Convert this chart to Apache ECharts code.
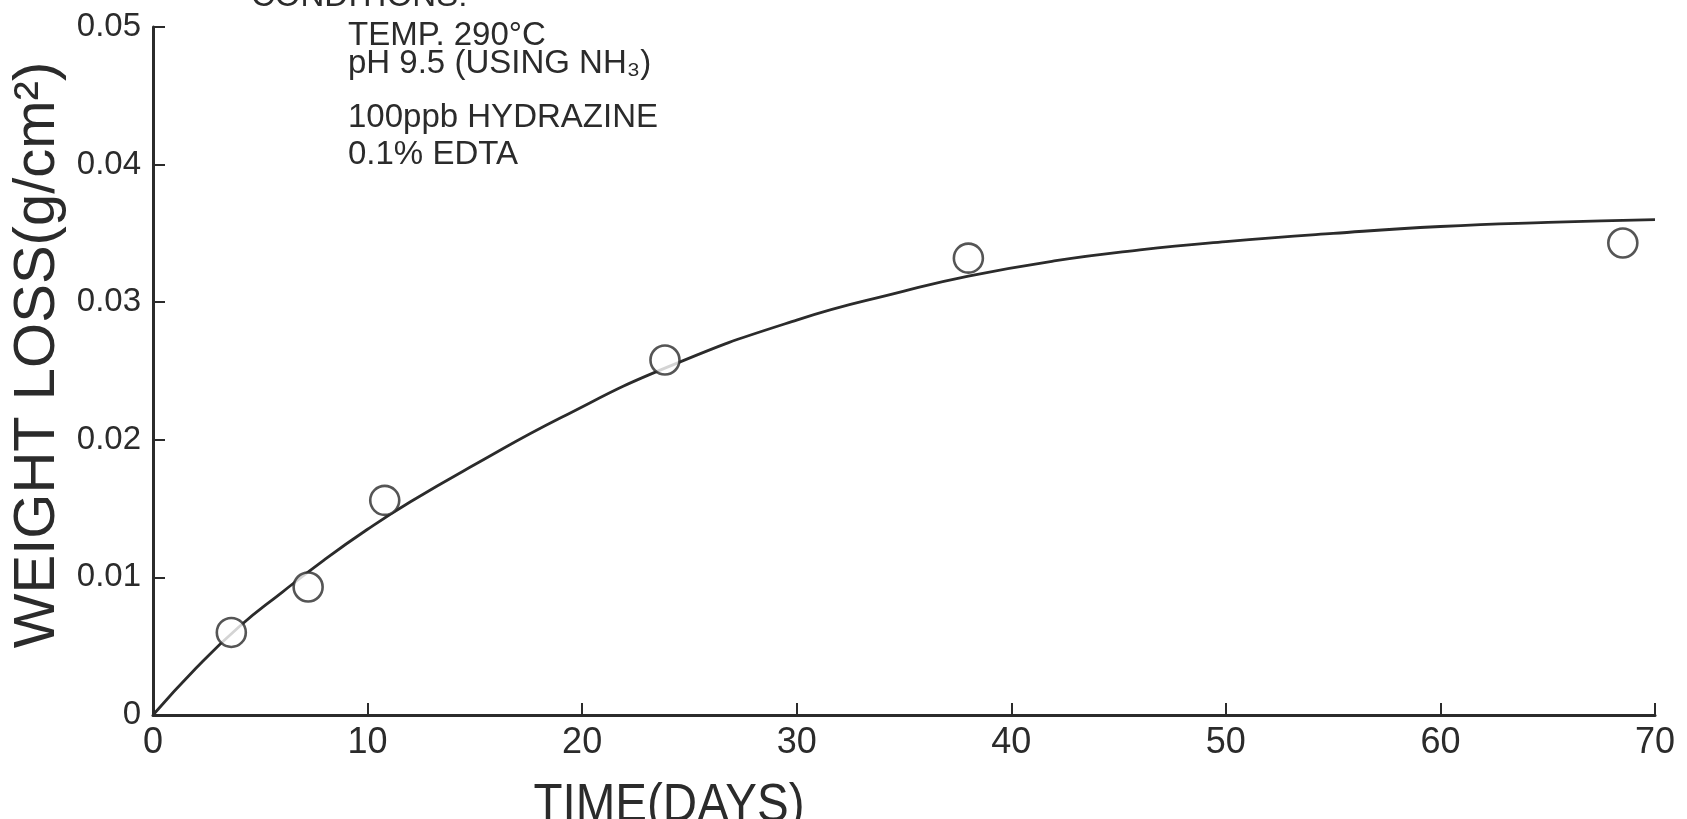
<!DOCTYPE html>
<html><head><meta charset="utf-8">
<script src="https://cdn.jsdelivr.net/npm/echarts@6/dist/echarts.min.js"></script>
<style>html,body{margin:0;padding:0;background:#fff}#c{width:1687px;height:819px}</style>
</head><body><div id="c"></div>
<script>
// Smooth fitted curve
const curveDays = [0, 2, 4, 6, 8, 10, 12, 15, 19, 24, 30, 35, 38, 42, 46, 50, 55, 60, 65, 70];
const curveLoss = [0, 0.0034, 0.0064, 0.0089, 0.0113, 0.0135, 0.0155, 0.0182, 0.0216, 0.0253, 0.0287, 0.0308, 0.0319, 0.0330, 0.0338, 0.0344, 0.0350, 0.0355, 0.0358, 0.0360];
// Measured points (open circles)
const pointDays = [3.65, 7.23, 10.8, 23.86, 38.0, 68.5];
const pointLoss = [0.0060, 0.0093, 0.0156, 0.0258, 0.0332, 0.0343];
// Axis ticks
const xTickMin = 0, xTickMax = 70, xTickStep = 10;
const yTickMin = 0, yTickMax = 0.05, yTickStep = 0.01;
// Texts
const xTitle = 'TIME(DAYS)';
const yTitle = 'WEIGHT LOSS(g/cm²)';
const condHeader = 'CONDITIONS:';
const condLines = ['TEMP. 290°C', 'pH 9.5 (USING NH₃)', '100ppb HYDRAZINE', '0.1% EDTA'];

const ink = '#2b2b2b';
const font = '"Liberation Sans", "DejaVu Sans", sans-serif';
const chart = echarts.init(document.getElementById('c'));
const condY = [36, 64, 118, 155];
chart.setOption({
  backgroundColor: '#fff',
  animation: false,
  grid: { left: 153, right: 32, top: 27, bottom: 104, containLabel: false, outerBoundsMode: 'none' },
  xAxis: {
    type: 'value', min: xTickMin, max: xTickMax, interval: xTickStep,
    axisLine: { show: true, lineStyle: { color: ink, width: 3 } },
    axisTick: { show: true, inside: true, length: 12, lineStyle: { color: ink, width: 2 } },
    axisLabel: { color: ink, fontSize: 36, fontFamily: font, margin: 10 },
    splitLine: { show: false }
  },
  yAxis: {
    type: 'value', min: yTickMin, max: yTickMax, interval: yTickStep,
    axisLine: { show: true, lineStyle: { color: ink, width: 3 } },
    axisTick: { show: true, inside: true, length: 12, lineStyle: { color: ink, width: 2 } },
    axisLabel: { color: ink, fontSize: 33, fontFamily: font, margin: 12 },
    splitLine: { show: false }
  },
  series: [
    {
      type: 'line', smooth: true, symbol: 'none',
      data: curveDays.map((d, i) => [d, curveLoss[i]]),
      lineStyle: { color: ink, width: 2.8 }, z: 2
    },
    {
      type: 'scatter', symbol: 'circle', symbolSize: 29,
      data: pointDays.map((d, i) => [d, pointLoss[i]]),
      itemStyle: { color: '#fff', borderColor: ink, borderWidth: 2.6 }, z: 3
    }
  ],
  graphic: [
    { type: 'text', x: 251, y: -3, style: { text: condHeader, font: '33px ' + font, fill: ink, textVerticalAlign: 'middle' } },
    { type: 'text', x: 669, y: 806, scaleX: 0.88, originX: 0, style: { text: xTitle, font: '54px ' + font, fill: ink, textAlign: 'center', textVerticalAlign: 'middle' } },
    { type: 'text', x: 38, y: 355, rotation: Math.PI / 2, style: { text: yTitle, font: '58px ' + font, fill: ink, textAlign: 'center', textVerticalAlign: 'middle' } }
  ].concat(condLines.map((t, i) => ({
    type: 'text', x: 348, y: condY[i],
    style: { text: t, font: '33px ' + font, fill: ink, textVerticalAlign: 'middle' }
  })))
});
</script></body></html>
